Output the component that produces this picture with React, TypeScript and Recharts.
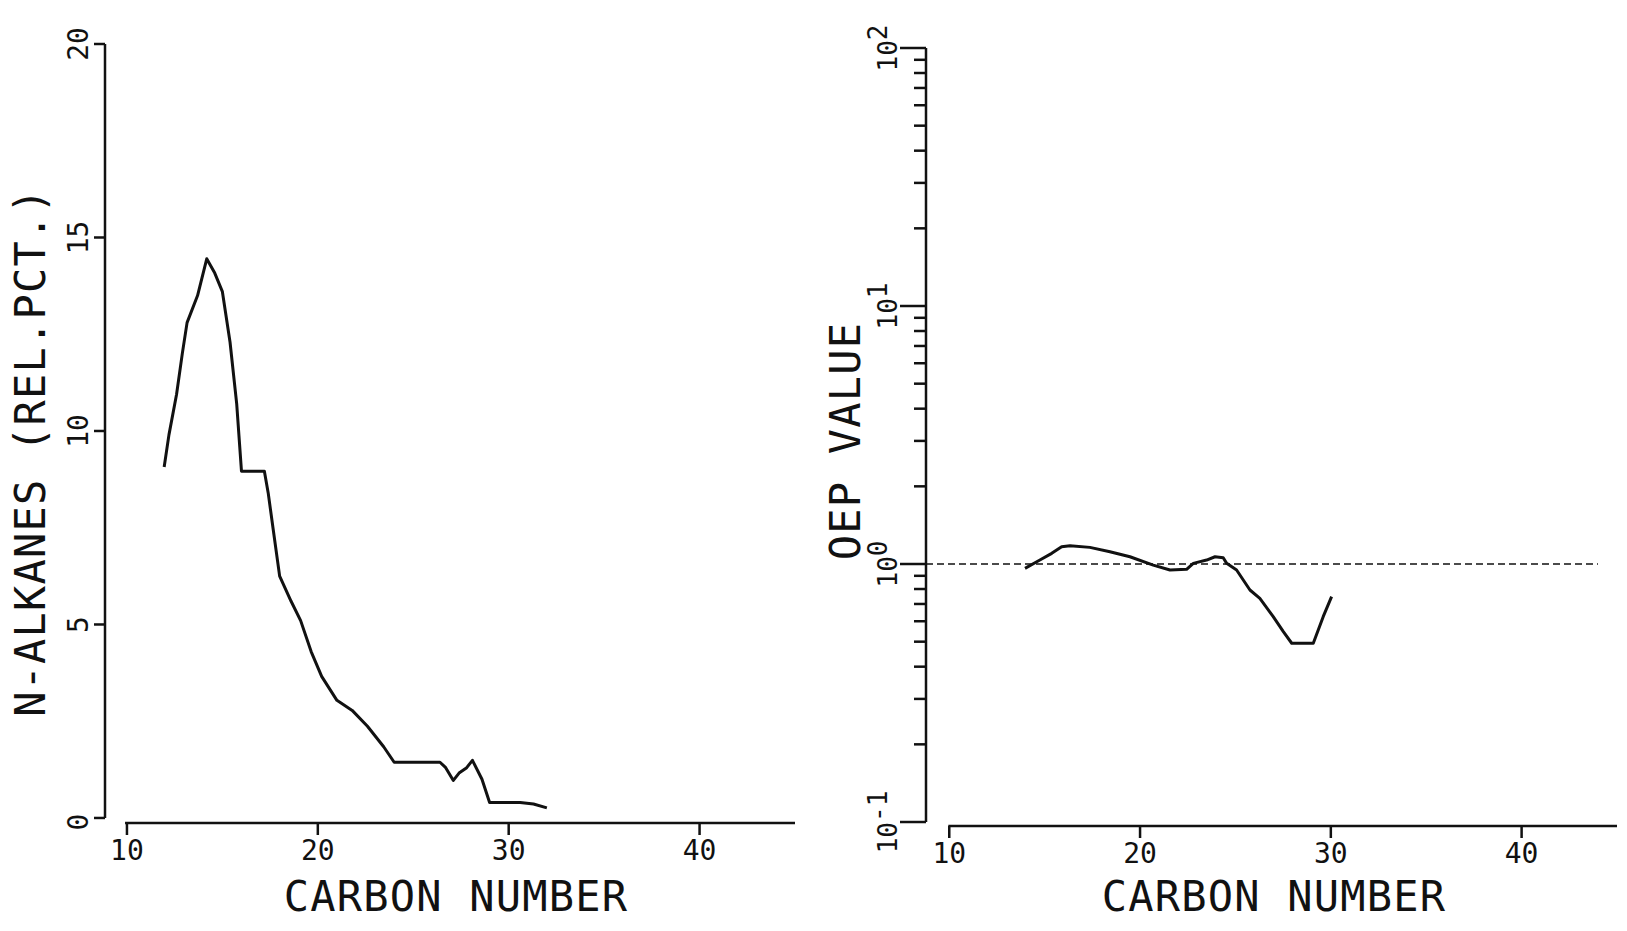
import React from 'react';
import { LineChart, Line, XAxis, YAxis, ReferenceLine } from 'recharts';

const alkaneCarbon = [
  11.95, 12.2, 12.6, 12.9, 13.15, 13.7, 14.18, 14.6, 15.0, 15.4, 15.75, 16.0,
  17.2, 17.4, 17.65, 18.0, 18.6, 19.1, 19.65, 20.2, 21.0, 21.8, 22.6, 23.45,
  24.0, 26.4, 26.7, 27.1, 27.4, 27.8, 28.1, 28.6, 29.0, 30.6, 31.3, 32.0,
];
const alkanePct = [
  9.07, 9.9, 10.95, 12.0, 12.8, 13.5, 14.45, 14.08, 13.6, 12.3, 10.7, 8.96,
  8.96, 8.4, 7.5, 6.25, 5.6, 5.1, 4.3, 3.66, 3.04, 2.78, 2.37, 1.84,
  1.44, 1.44, 1.3, 0.97, 1.16, 1.3, 1.49, 1.0, 0.4, 0.4, 0.36, 0.26,
];

const oepCarbon = [
  13.97, 14.75, 15.37, 15.89, 16.33, 17.37, 18.42, 19.47, 20.69, 21.57, 22.44,
  22.79, 23.49, 23.93, 24.36, 24.54, 25.06, 25.76, 26.28, 26.98, 27.51, 27.95,
  29.08, 29.6, 30.04,
];
const oepValue = [
  0.962, 1.036, 1.1, 1.167, 1.178, 1.16, 1.116, 1.067, 0.99, 0.948, 0.954,
  1.006, 1.036, 1.067, 1.057, 1.006, 0.948, 0.793, 0.736, 0.625, 0.547, 0.493,
  0.493, 0.625, 0.747,
];

const carbonTicks = [10, 20, 30, 40];
const pctTicks = [0, 5, 10, 15, 20];
const oepTicks = [
  0.1, 0.2, 0.3, 0.4, 0.5, 0.6, 0.7, 0.8, 0.9,
  1, 2, 3, 4, 5, 6, 7, 8, 9,
  10, 20, 30, 40, 50, 60, 70, 80, 90, 100,
];
const oepMajor = [0.1, 1, 10, 100];
const oepExponent = ['-1', '0', '1', '2'];

const alkaneData = alkaneCarbon.map((c, i) => ({ c, v: alkanePct[i] }));
const oepData = oepCarbon.map((c, i) => ({ c, v: oepValue[i] }));

const FONT = "'DejaVu Sans Mono', monospace";
const INK = '#111';

const CarbonTick = ({ x, y, payload }: any) => (
  <g>
    <line x1={x} x2={x} y1={y} y2={y + 12} stroke={INK} strokeWidth={2.5} />
    <text x={x} y={y + 37} textAnchor="middle" fontSize={28} fontFamily={FONT} fill={INK}>
      {payload.value}
    </text>
  </g>
);

const PctTick = ({ x, y, payload }: any) => {
  const shift = payload.value === 0 ? 4 : 0;
  return (
    <g>
      <line x1={x} x2={x - 11} y1={y} y2={y} stroke={INK} strokeWidth={2.5} />
      <text
        transform={`translate(${x - 17},${y + shift}) rotate(-90)`}
        textAnchor="middle"
        fontSize={28}
        fontFamily={FONT}
        fill={INK}
      >
        {payload.value}
      </text>
    </g>
  );
};

const OepTick = ({ x, y, payload }: any) => {
  const idx = oepMajor.indexOf(payload.value);
  const major = idx >= 0;
  return (
    <g>
      <line x1={x} x2={x - (major ? 26 : 12)} y1={y} y2={y} stroke={INK} strokeWidth={2.5} />
      {major && (
        <text
          transform={`translate(${x - 29},${y}) rotate(-90)`}
          textAnchor="middle"
          fontSize={26}
          fontFamily={FONT}
          fill={INK}
        >
          10
          <tspan dy={-10}>{oepExponent[idx]}</tspan>
        </text>
      )}
    </g>
  );
};

const title: React.CSSProperties = {
  position: 'absolute',
  fontFamily: FONT,
  fontSize: 42,
  letterSpacing: 1.2,
  lineHeight: 1,
  whiteSpace: 'nowrap',
  color: INK,
};

export default function App() {
  return (
    <div
      style={{
        position: 'absolute',
        left: 0,
        top: 0,
        width: 1627,
        height: 931,
        background: '#fff',
        overflow: 'hidden',
      }}
    >
      <div style={{ position: 'absolute', left: 0, top: 0 }}>
        <LineChart
          width={820}
          height={931}
          data={alkaneData}
          margin={{ top: 44, right: 25, bottom: 48, left: 45 }}
        >
          <XAxis
            dataKey="c"
            type="number"
            domain={[8.85, 45]}
            allowDataOverflow
            ticks={carbonTicks}
            interval={0}
            axisLine={false}
            tickLine={false}
            tickSize={0}
            tickMargin={0}
            height={60}
            tick={CarbonTick}
          />
          <YAxis
            type="number"
            domain={[-0.13, 20]}
            allowDataOverflow
            ticks={pctTicks}
            interval={0}
            axisLine={false}
            tickLine={false}
            tickSize={0}
            tickMargin={0}
            width={60}
            tick={PctTick}
          />
          <ReferenceLine
            segment={[{ x: 8.85, y: 0 }, { x: 8.85, y: 20 }]}
            stroke={INK}
            strokeWidth={2.5}
            ifOverflow="visible"
          />
          <ReferenceLine
            segment={[{ x: 9.9, y: -0.13 }, { x: 45, y: -0.13 }]}
            stroke={INK}
            strokeWidth={2.5}
            ifOverflow="visible"
          />
          <Line
            dataKey="v"
            type="linear"
            stroke={INK}
            strokeWidth={3}
            strokeLinejoin="round"
            dot={false}
            isAnimationActive={false}
          />
        </LineChart>
      </div>

      <div style={{ position: 'absolute', left: 820, top: 0 }}>
        <LineChart
          width={807}
          height={931}
          data={oepData}
          margin={{ top: 48, right: 10, bottom: 45, left: 46 }}
        >
          <XAxis
            dataKey="c"
            type="number"
            domain={[8.78, 45]}
            allowDataOverflow
            ticks={carbonTicks}
            interval={0}
            axisLine={false}
            tickLine={false}
            tickSize={0}
            tickMargin={0}
            height={60}
            tick={CarbonTick}
          />
          <YAxis
            type="number"
            scale="log"
            domain={[0.0965, 100]}
            allowDataOverflow
            ticks={oepTicks}
            interval={0}
            axisLine={false}
            tickLine={false}
            tickSize={0}
            tickMargin={0}
            width={60}
            tick={OepTick}
          />
          <ReferenceLine
            segment={[{ x: 8.78, y: 0.1 }, { x: 8.78, y: 100 }]}
            stroke={INK}
            strokeWidth={2.5}
            ifOverflow="visible"
          />
          <ReferenceLine
            segment={[{ x: 9.95, y: 0.0965 }, { x: 45, y: 0.0965 }]}
            stroke={INK}
            strokeWidth={2.5}
            ifOverflow="visible"
          />
          <ReferenceLine
            segment={[{ x: 8.78, y: 1 }, { x: 44, y: 1 }]}
            stroke={INK}
            strokeWidth={1.6}
            strokeDasharray="7 4"
            ifOverflow="visible"
          />
          <Line
            dataKey="v"
            type="linear"
            stroke={INK}
            strokeWidth={3}
            strokeLinejoin="round"
            dot={false}
            isAnimationActive={false}
          />
        </LineChart>
      </div>

      <div style={{ ...title, left: 31, top: 452, transform: 'translate(-50%, -50%) rotate(-90deg)' }}>
        N-ALKANES (REL.PCT.)
      </div>
      <div style={{ ...title, left: 846, top: 441, transform: 'translate(-50%, -50%) rotate(-90deg)' }}>
        OEP VALUE
      </div>
      <div style={{ ...title, left: 456, top: 897, transform: 'translate(-50%, -50%)' }}>
        CARBON NUMBER
      </div>
      <div style={{ ...title, left: 1274, top: 897, transform: 'translate(-50%, -50%)' }}>
        CARBON NUMBER
      </div>
    </div>
  );
}
